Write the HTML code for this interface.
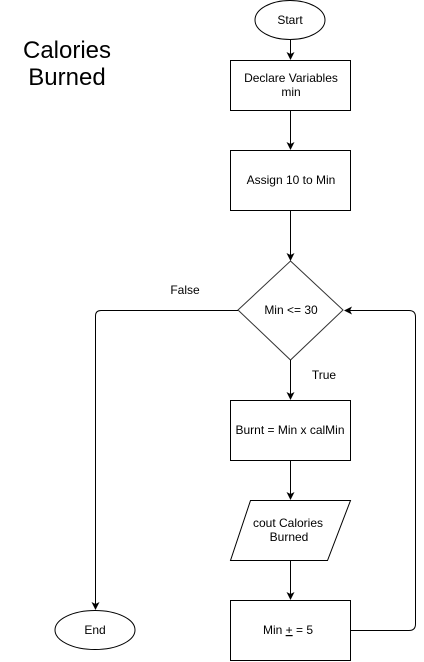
<!DOCTYPE html>
<html><head><style>html,body{margin:0;padding:0;background:#fff}svg{display:block}</style></head>
<body>
<svg width="424" height="662" viewBox="0 0 424 662" xmlns="http://www.w3.org/2000/svg" font-family="Liberation Sans, sans-serif" font-size="12">
<defs><marker id="a" markerWidth="8" markerHeight="8" refX="7" refY="4" orient="auto" markerUnits="userSpaceOnUse"><path d="M0,0 L8,4 L0,8 L2,4 Z" fill="#000"/></marker></defs>
<g fill="none" stroke="#000" stroke-width="1">
<ellipse cx="290" cy="20" rx="35" ry="19.5"/>
<rect x="230.5" y="60.5" width="120" height="50"/>
<rect x="230.5" y="150.5" width="120" height="60"/>
<path d="M290.5,261 L343,310 L290.5,360 L238,310 Z" stroke="#333"/>
<rect x="230.5" y="400.5" width="120" height="60"/>
<path d="M250.5,500.5 L350.5,500.5 L327.5,560.5 L230.5,560.5 Z"/>
<rect x="230.5" y="600.5" width="120" height="60"/>
<ellipse cx="95" cy="630" rx="40" ry="19.5"/>
<path d="M290.5,40 V59" marker-end="url(#a)"/>
<path d="M290.5,111 V149" marker-end="url(#a)"/>
<path d="M290.5,211 V260" marker-end="url(#a)"/>
<path d="M290.5,360 V399" marker-end="url(#a)"/>
<path d="M290.5,461 V499" marker-end="url(#a)"/>
<path d="M290.5,561 V599" marker-end="url(#a)"/>
<path d="M238,310.5 H101 Q95.5,310.5 95.5,316 V609" marker-end="url(#a)"/>
<path d="M351,630.5 H409 Q415.5,630.5 415.5,624 V317 Q415.5,310.5 409,310.5 H345" marker-end="url(#a)"/>
</g>
<g fill="#000" text-anchor="middle">
<text x="67" y="58" font-size="24">Calories</text>
<text x="67" y="85" font-size="24">Burned</text>
<text x="290" y="24">Start</text>
<text x="291" y="82">Declare Variables</text>
<text x="291" y="96">min</text>
<text x="291" y="184">Assign 10 to Min</text>
<text x="291" y="314">Min &lt;= 30</text>
<text x="185" y="294">False</text>
<text x="324" y="379">True</text>
<text x="290" y="104" dy="330">Burnt = Min x calMin</text>
<text x="288" y="197" dy="330">cout Calories</text>
<text x="289" y="211" dy="330">Burned</text>
<text x="288" y="634">Min <tspan text-decoration="underline">+</tspan> = 5</text>
<text x="95" y="634">End</text>
</g>
</svg>
</body></html>
